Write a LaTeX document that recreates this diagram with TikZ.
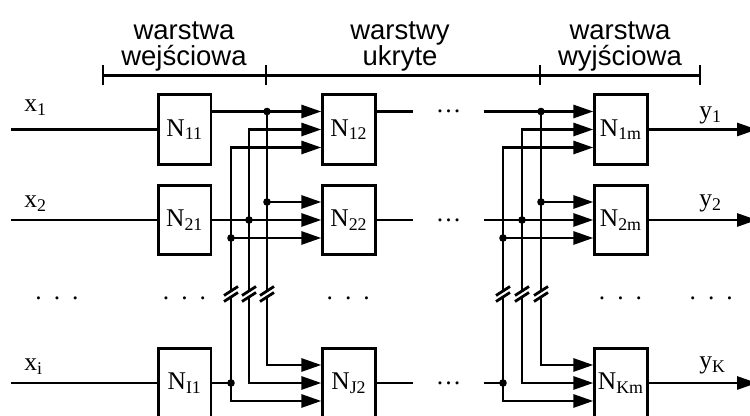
\documentclass[tikz,border=0pt]{standalone}
\usepackage{fontspec}
\setmainfont{Liberation Serif}
\newfontfamily\arialfont{Liberation Sans}
\usetikzlibrary{arrows.meta}
\newcommand\gapdots{.\hspace{6pt}.\hspace{6pt}.}

\begin{document}
\begin{tikzpicture}[x=0.5pt, y=0.5pt, line width=1.4pt, >={Triangle[length=10pt,width=6.5pt]},
  neuron/.style={draw, minimum width=26.25pt, minimum height=34.85pt, inner sep=0pt, font=\fontsize{12.75}{14}\selectfont},
  ell/.style={minimum width=35.5pt, inner sep=0pt, outer sep=0pt, font=\fontsize{12.75}{14}\selectfont},
  sig/.style={anchor=base west, inner sep=0pt, font=\fontsize{12.75}{14}\selectfont},
  layerlbl/.style={align=center, inner sep=0pt, font=\arialfont\fontsize{13.75}{13.35}\selectfont},
  rowdots/.style={anchor=base, inner sep=0pt, font=\fontsize{12.75}{14}\selectfont}]
  \path[use as bounding box, clip] (0,0) rectangle (750,416);
  % levels of the inputs (top, middle, bottom) in each row
  \coordinate (r1t) at (0,304.5); \coordinate (r1m) at (0,286.5); \coordinate (r1b) at (0,268.5);
  \coordinate (r2t) at (0,214);   \coordinate (r2m) at (0,196);   \coordinate (r2b) at (0,178);
  \coordinate (rIt) at (0,51);    \coordinate (rIm) at (0,33);    \coordinate (rIb) at (0,15);
  % buses and break
  \coordinate (busA) at (231,0); \coordinate (busB) at (249,0); \coordinate (busC) at (267,0);
  \coordinate (busD) at (503,0); \coordinate (busE) at (522,0); \coordinate (busF) at (541,0);
  \coordinate (bk1) at (0,125); \coordinate (bk2) at (0,119);
  \coordinate (inL) at (11,0); \coordinate (outR) at (757,0);

  % layer labels
  \node[layerlbl] (lin) at (184,369.5) {warstwa\\wejściowa};
  \node[layerlbl] (lhid) at (400,369.5) {warstwy\\ukryte};
  \node[layerlbl] (lout) at (620,369.5) {warstwa\\wyjściowa};
  \draw (103,340.5) -- (700,340.5);
  \foreach \x in {103,266,540,700} \draw (\x,330.5) -- (\x,350.5);

  % neurons
  \node[neuron] (N11) at (184.75,286.5) {N\textsubscript{11}};
  \node[neuron] (N21) at (184.75,196) {N\textsubscript{21}};
  \node[neuron] (NI1) at (184.75,33) {N\textsubscript{I1}};
  \node[neuron] (N12) at (349,286.5) {N\textsubscript{12}};
  \node[neuron] (N22) at (349,196) {N\textsubscript{22}};
  \node[neuron] (NJ2) at (349,33) {N\textsubscript{J2}};
  \node[neuron] (N1m) at (621,286.5) {N\textsubscript{1m}};
  \node[neuron] (N2m) at (621,196) {N\textsubscript{2m}};
  \node[neuron] (NKm) at (621,33) {N\textsubscript{Km}};

  % inputs and outputs
  \node[sig] (x1) at (23,304) {x\textsubscript{1}};
  \node[sig] (x2) at (23,208) {x\textsubscript{2}};
  \node[sig] (xi) at (23,45) {x\textsubscript{i}};
  \node[sig] (y1) at (698,297.5) {y\textsubscript{1}};
  \node[sig] (y2) at (698,209) {y\textsubscript{2}};
  \node[sig] (yK) at (698,47) {y\textsubscript{K}};
  \draw (inL |- N11) -- (N11.west);
  \draw (inL |- N21) -- (N21.west);
  \draw (inL |- NI1) -- (NI1.west);
  \draw[->] (N1m.east) -- (outR |- N1m);
  \draw[->] (N2m.east) -- (outR |- N2m);
  \draw[->] (NKm.east) -- (outR |- NKm);

  % input layer -> hidden layer
  \draw[->] (N11.east |- r1t) -- (N12.west |- r1t);
  \draw[->] (N21.east) -- (N22.west);
  \draw (NI1.east) -- (busA |- rIm);
  \draw (busC |- r1t) -- (busC |- bk1);
  \draw[->] (busC |- bk2) -- (busC |- rIt) -- (NJ2.west |- rIt);
  \draw[->] (busB |- bk1) -- (busB |- r1m) -- (N12.west |- r1m);
  \draw[->] (busB |- bk2) -- (busB |- rIm) -- (NJ2.west |- rIm);
  \draw[->] (busA |- bk1) -- (busA |- r1b) -- (N12.west |- r1b);
  \draw[->] (busA |- bk2) -- (busA |- rIb) -- (NJ2.west |- rIb);
  \draw[->] (busC |- r2t) -- (N22.west |- r2t);
  \draw[->] (busA |- r2b) -- (N22.west |- r2b);

  % hidden layer -> output layer
  \node[ell] (e1) at (448.5,304.5) {…};
  \node[ell] (e2) at (448.5,196) {…};
  \node[ell] (e3) at (448.5,33) {…};
  \draw (N12.east |- r1t) -- (e1.west);
  \draw (N22.east) -- (e2.west);
  \draw (NJ2.east) -- (e3.west);
  \draw[->] (e1.east) -- (N1m.west |- r1t);
  \draw[->] (e2.east) -- (N2m.west);
  \draw (e3.east) -- (busD |- rIm);
  \draw (busF |- r1t) -- (busF |- bk1);
  \draw[->] (busF |- bk2) -- (busF |- rIt) -- (NKm.west |- rIt);
  \draw[->] (busE |- bk1) -- (busE |- r1m) -- (N1m.west |- r1m);
  \draw[->] (busE |- bk2) -- (busE |- rIm) -- (NKm.west |- rIm);
  \draw[->] (busD |- bk1) -- (busD |- r1b) -- (N1m.west |- r1b);
  \draw[->] (busD |- bk2) -- (busD |- rIb) -- (NKm.west |- rIb);
  \draw[->] (busF |- r2t) -- (N2m.west |- r2t);
  \draw[->] (busD |- r2b) -- (N2m.west |- r2b);

  % junctions and breaks
  \foreach \p in {busC |- r1t, busC |- r2t, busB |- r2m, busA |- r2b, busA |- rIm,
                  busF |- r1t, busF |- r2t, busE |- r2m, busD |- r2b, busD |- rIm}
    \fill (\p) circle (1.9pt);
  \foreach \x in {231,249,267,503,522,541}
    \draw (\x-7,120.5) -- (\x+7,129.5) (\x-7,114.5) -- (\x+7,123.5);

  % rows left out
  \node[rowdots] (d1) at (57,116) {\gapdots};
  \node[rowdots] (d2) at (184.5,116) {\gapdots};
  \node[rowdots] (d3) at (348.3,116) {\gapdots};
  \node[rowdots] (d4) at (620.5,116) {\gapdots};
  \node[rowdots] (d5) at (711.3,116) {\gapdots};
\end{tikzpicture}
\end{document}
